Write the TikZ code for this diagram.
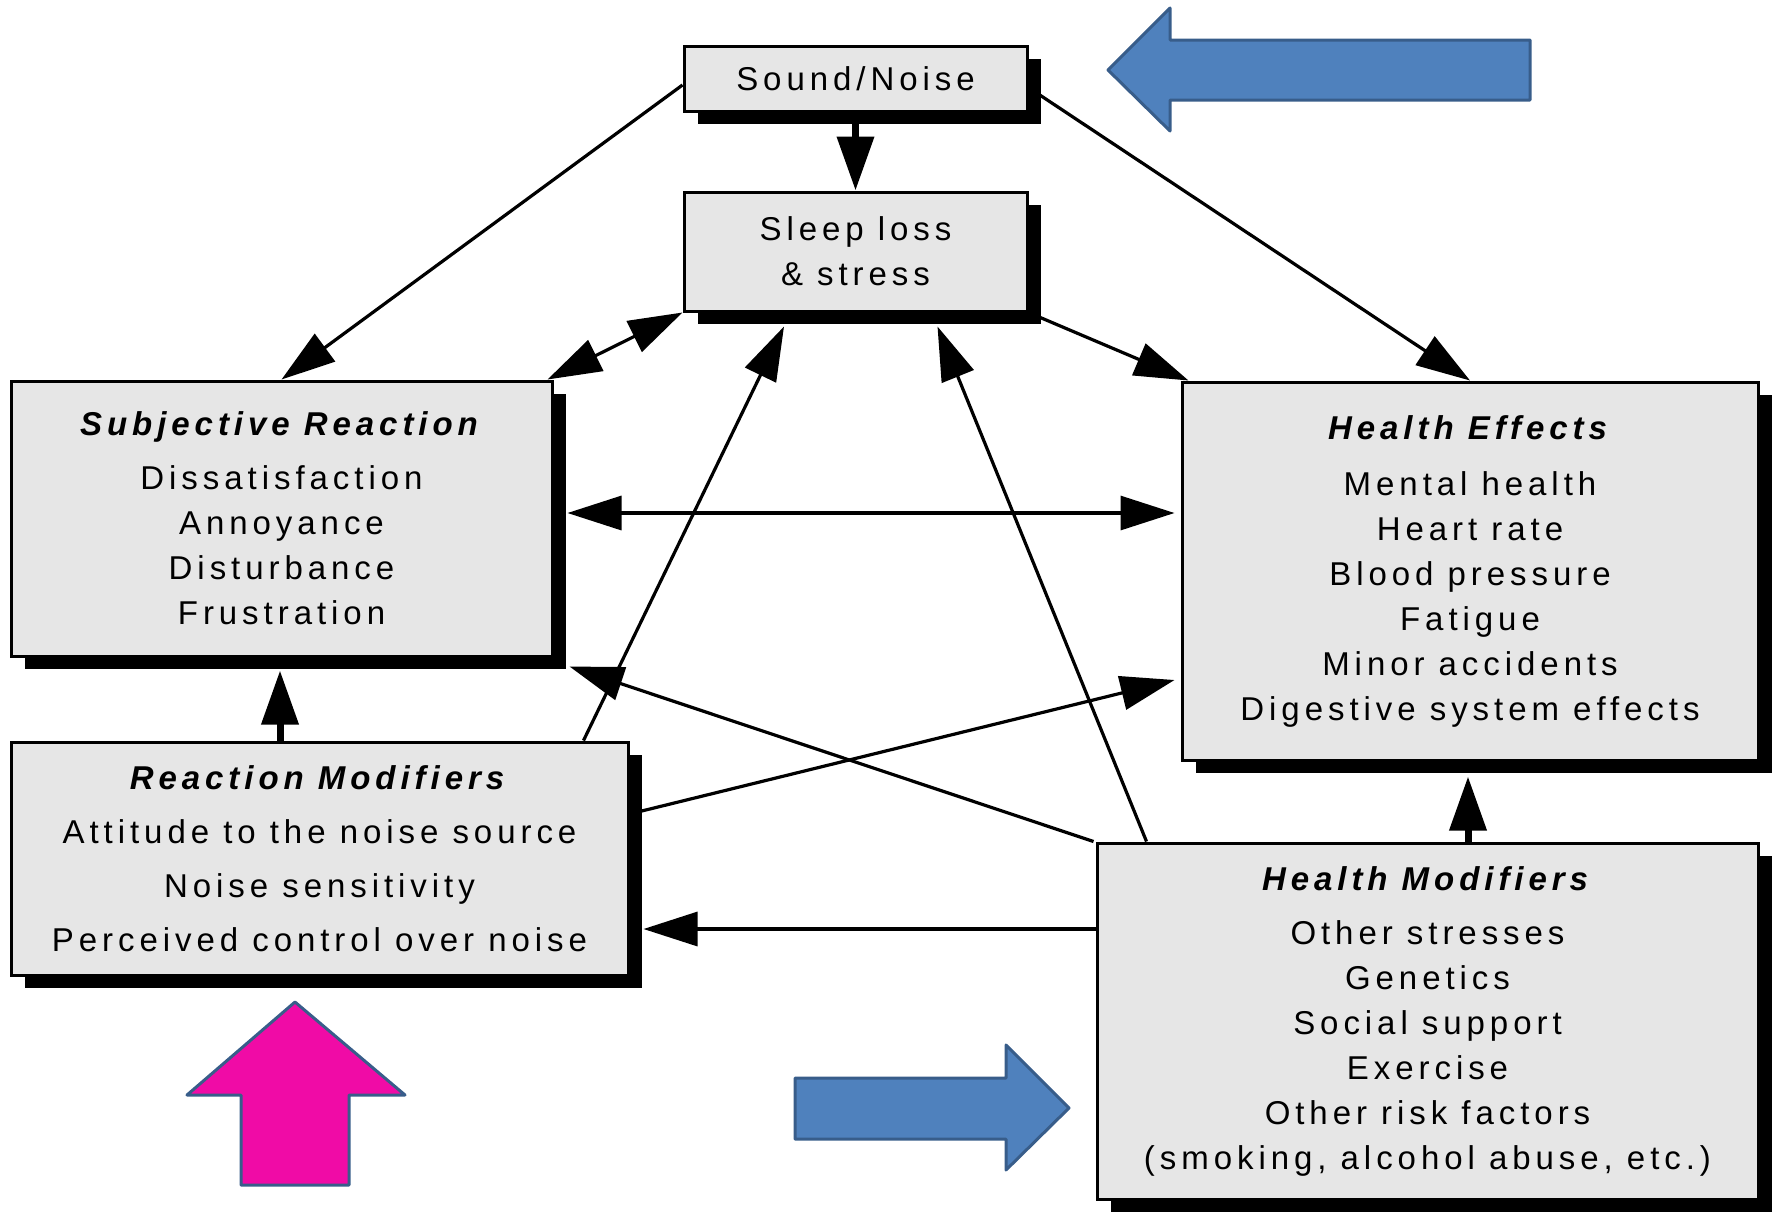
\documentclass[tikz,border=0pt]{standalone}
\usepackage{fontspec}
\setmainfont{Liberation Sans}[LetterSpace=15]
\usetikzlibrary{arrows.meta,shadows}
\definecolor{boxgray}{HTML}{E6E6E6}
\definecolor{bluefill}{HTML}{4F81BD}
\definecolor{blueedge}{HTML}{385D8A}
\definecolor{pinkfill}{HTML}{F00BA6}
\begin{document}
\begin{tikzpicture}[x=0.5pt,y=-0.5pt,
  box/.style={draw=black, line width=1.5pt, fill=boxgray, inner sep=0pt, align=center,
    font=\fontsize{16.5}{22.5}\selectfont,
    drop shadow={shadow xshift=7pt, shadow yshift=-6.5pt, fill=black, opacity=1}},
  conn/.style={line width=1.6pt, -{Triangle[length=27pt,width=17pt]}},
  dconn/.style={line width=1.6pt, {Triangle[length=27pt,width=17pt]}-{Triangle[length=27pt,width=17pt]}},
  vconn/.style={line width=3.5pt, -{Triangle[length=27pt,width=18pt]}},
  blk/.style={draw=blueedge, line width=1.5pt, line join=round}]
\useasboundingbox (0,0) rectangle (1773,1212);

\node[box, minimum width=171.5pt, minimum height=32.5pt] (snd) at (855.5,78.5) {Sound/Noise};
\node[box, minimum width=171.5pt, minimum height=59.5pt] (sleep) at (855.5,251.5) {Sleep loss\\ \& stress};
\node[box, minimum width=270.5pt, minimum height=137.5pt] (subj) at (281.5,518.5)
  {\textbf{\textit{Subjective Reaction}}\\[4.5pt] Dissatisfaction\\ Annoyance\\ Disturbance\\ Frustration};
\node[box, minimum width=288pt, minimum height=189pt] (he) at (1470,571)
  {\textbf{\textit{Health Effects}}\\[5.5pt] Mental health\\ Heart rate\\ Blood pressure\\ Fatigue\\ Minor accidents\\ Digestive system effects};
\node[box, minimum width=308.5pt, minimum height=116.5pt] (rm) at (319.5,858.5)
  {\textbf{\textit{Reaction Modifiers}}\\[4.5pt] Attitude to the noise source\\[4.5pt] Noise sensitivity\\[4.5pt] Perceived control over noise};
\node[box, minimum width=330.5pt, minimum height=178pt] (hm) at (1427.5,1021)
  {\textbf{\textit{Health Modifiers}}\\[4.5pt] Other stresses\\ Genetics\\ Social support\\ Exercise\\ Other risk factors\\ (smoking, alcohol abuse, etc.)};

\draw[conn] ([yshift=-3.25pt]snd.west) -- (subj.north);
\draw[vconn] (snd.south) -- (sleep.north);
\draw[conn] ([yshift=-4.5pt]snd.east) -- (he.north);
\draw[dconn] ([xshift=-3pt]subj.north east) -- (sleep.south west);
\draw[conn] (sleep.south east) -- ([xshift=4pt]he.north west);
\draw[dconn] ([xshift=7pt,yshift=2.75pt]subj.east) -- ([xshift=-3pt,yshift=29pt]he.west);
\draw[vconn] ([xshift=-19.75pt]rm.north) -- ([xshift=-0.75pt,yshift=-6.5pt]subj.south);
\draw[conn] ([xshift=-23pt]rm.north east) -- ([xshift=-35.75pt,yshift=-7pt]sleep.south);
\draw[conn] ([yshift=22.25pt]rm.east) -- ([xshift=-3pt,yshift=-54.5pt]he.west);
\draw[conn] ([xshift=-1pt]hm.north west) -- ([xshift=8pt,yshift=-4.5pt]subj.south east);
\draw[conn] ([xshift=25.5pt]hm.north west) -- ([xshift=41pt,yshift=-7pt]sleep.south);
\draw[conn] ([yshift=46pt]hm.west) -- ([xshift=7pt,yshift=-35.25pt]rm.east);
\draw[vconn] ([xshift=20.25pt]hm.north) -- ([xshift=-1pt,yshift=-7.5pt]he.south);

\filldraw[blk, fill=bluefill] (1108,70) -- (1170,8) -- (1170,40) -- (1530,40) -- (1530,100) -- (1170,100) -- (1170,131) -- cycle;
\filldraw[blk, fill=pinkfill] (295,1002) -- (405,1095) -- (349,1095) -- (349,1185) -- (241,1185) -- (241,1095) -- (187,1095) -- cycle;
\filldraw[blk, fill=bluefill] (1069,1108) -- (1006,1045) -- (1006,1078) -- (795,1078) -- (795,1139) -- (1006,1139) -- (1006,1170) -- cycle;
\end{tikzpicture}
\end{document}
